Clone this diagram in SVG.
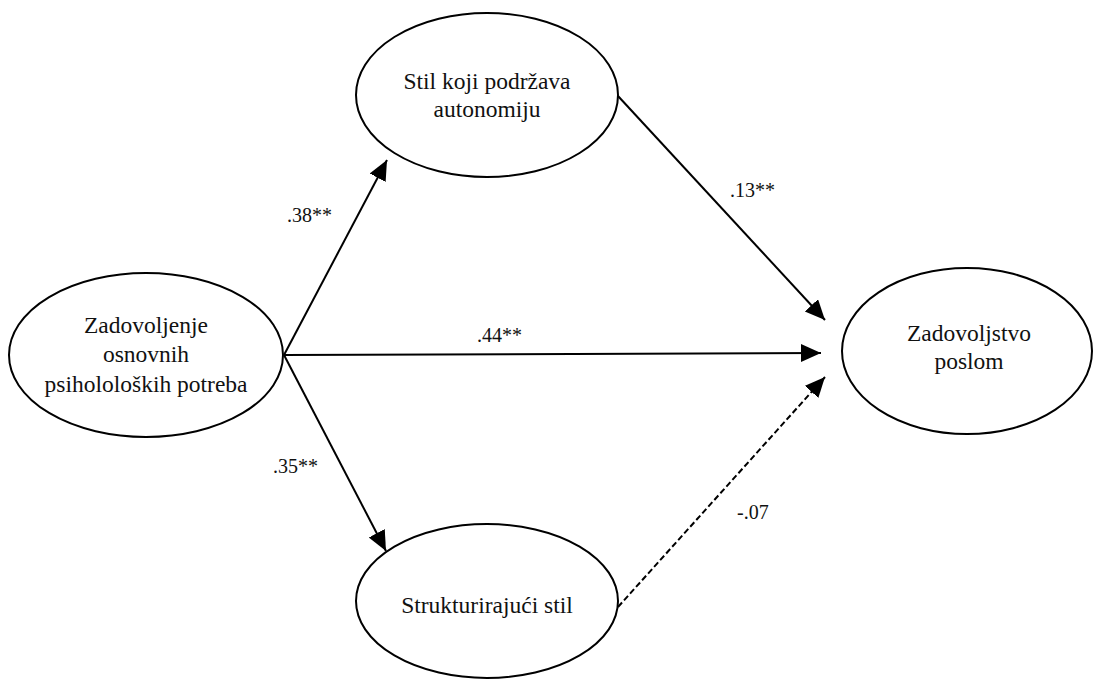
<svg xmlns="http://www.w3.org/2000/svg" width="1093" height="687" viewBox="0 0 1093 687">
<style>
.node ellipse{fill:#fff;stroke:#000;stroke-width:2}
.nt{font-family:'Liberation Serif','Times New Roman',serif;font-size:23.5px;fill:#111;text-anchor:middle}
.lbl{font-family:'Liberation Serif','Times New Roman',serif;font-size:20px;fill:#111}
.c{stroke:#000;stroke-width:2;fill:none;marker-end:url(#ah)}
.dash{stroke-dasharray:6 3}
</style>
<defs>
<marker id="ah" markerUnits="userSpaceOnUse" markerWidth="22" markerHeight="20" refX="20" refY="9" orient="auto">
<path d="M0,0 L20,9 L0,18 Z" fill="#000"/>
</marker>
</defs>
<rect width="1093" height="687" fill="#fff"/>
<g id="connectors">
<line class="c" x1="284" y1="355" x2="387" y2="160"/>
<line class="c" x1="284" y1="355" x2="821" y2="353"/>
<line class="c" x1="284" y1="355" x2="386" y2="551"/>
<line class="c" x1="618" y1="96" x2="825" y2="320"/>
<line class="c dash" x1="618" y1="607" x2="825" y2="377"/>
<text class="lbl" x="287" y="222">.38**</text>
<text class="lbl" x="477" y="342">.44**</text>
<text class="lbl" x="273" y="473">.35**</text>
<text class="lbl" x="730" y="197">.13**</text>
<text class="lbl" x="737" y="519">-.07</text>
</g>
<g id="n1" class="node">
<ellipse cx="146" cy="355" rx="137" ry="82"/>
<text class="nt" x="146" y="333">Zadovoljenje</text>
<text class="nt" x="146" y="362">osnovnih</text>
<text class="nt" x="146" y="392">psihololoških potreba</text>
</g>
<g id="n2" class="node">
<ellipse cx="487" cy="95" rx="131" ry="82"/>
<text class="nt" x="487" y="89">Stil koji podržava</text>
<text class="nt" x="487" y="117">autonomiju</text>
</g>
<g id="n3" class="node">
<ellipse cx="487" cy="601" rx="131" ry="77"/>
<text class="nt" x="487" y="613">Strukturirajući stil</text>
</g>
<g id="n4" class="node">
<ellipse cx="967" cy="351" rx="125" ry="83"/>
<text class="nt" x="969" y="341">Zadovoljstvo</text>
<text class="nt" x="969" y="369">poslom</text>
</g>
</svg>
